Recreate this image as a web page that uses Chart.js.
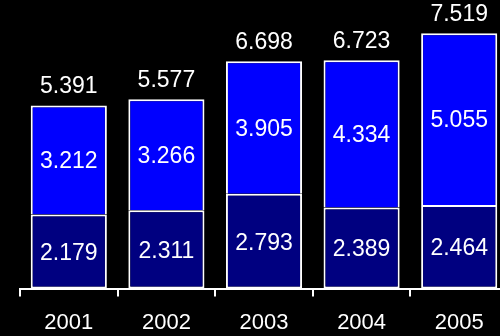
<!DOCTYPE html>
<html>
<head>
<meta charset="utf-8">
<script src="https://cdn.jsdelivr.net/npm/chart.js@4/dist/chart.umd.min.js"></script>
<style>
  html, body { margin: 0; padding: 0; background: #000; overflow: hidden; }
  #wrap { width: 508px; height: 336px; }
</style>
</head>
<body>
<div id="wrap"><canvas id="myChart"></canvas></div>
<script>
const years = ['2001', '2002', '2003', '2004', '2005'];
const lower = [2.179, 2.311, 2.793, 2.389, 2.464];
const upper = [3.212, 3.266, 3.905, 4.334, 5.055];

const FONT = 'Liberation Sans, Arial, sans-serif';

// writes each segment's value inside it and the sum above the stack
const valueLabels = {
  id: 'valueLabels',
  afterDatasetsDraw(chart) {
    const ctx = chart.ctx;
    ctx.save();
    ctx.fillStyle = '#fff';
    ctx.font = '23px ' + FONT;
    ctx.textAlign = 'center';
    ctx.textBaseline = 'middle';
    chart.data.datasets.forEach((ds, i) => {
      chart.getDatasetMeta(i).data.forEach((bar, j) => {
        const mid = (bar.y + bar.base) / 2;
        ctx.fillText(ds.data[j].toFixed(3), bar.x, mid + 2);
      });
    });
    const top = chart.getDatasetMeta(1).data;
    top.forEach((bar, j) => {
      const total = lower[j] + upper[j];
      ctx.fillText(total.toFixed(3), bar.x, bar.y - 19);
    });
    ctx.restore();
  }
};

const data = {
  labels: years,
  datasets: [{
    data: lower,
    backgroundColor: '#000080',
    borderColor: '#fff',
    borderWidth: 2,
    borderSkipped: false
  }, {
    data: upper,
    backgroundColor: '#0000ff',
    borderColor: '#fff',
    borderWidth: 2,
    borderSkipped: 'bottom'
  }]
};

const config = {
  type: 'bar',
  data,
  plugins: [valueLabels],
  options: {
    responsive: true,
    maintainAspectRatio: false,
    animation: false,
    layout: { padding: { left: 20, top: 0, right: 0, bottom: -13 } },
    plugins: { legend: { display: false }, tooltip: { enabled: false } },
    datasets: { bar: { barPercentage: 0.78, categoryPercentage: 1 } },
    scales: {
      x: {
        stacked: true,
        border: { display: true, color: '#fff', width: 2 },
        grid: { display: true, drawOnChartArea: false, drawTicks: true, tickLength: 8, color: '#fff', lineWidth: 2 },
        ticks: { color: '#fff', font: { family: FONT, size: 22 }, padding: 13 }
      },
      y: {
        stacked: true,
        display: false,
        min: 0,
        max: 8.5
      }
    }
  }
};

const myChart = new Chart(document.getElementById('myChart'), config);
</script>
</body>
</html>
